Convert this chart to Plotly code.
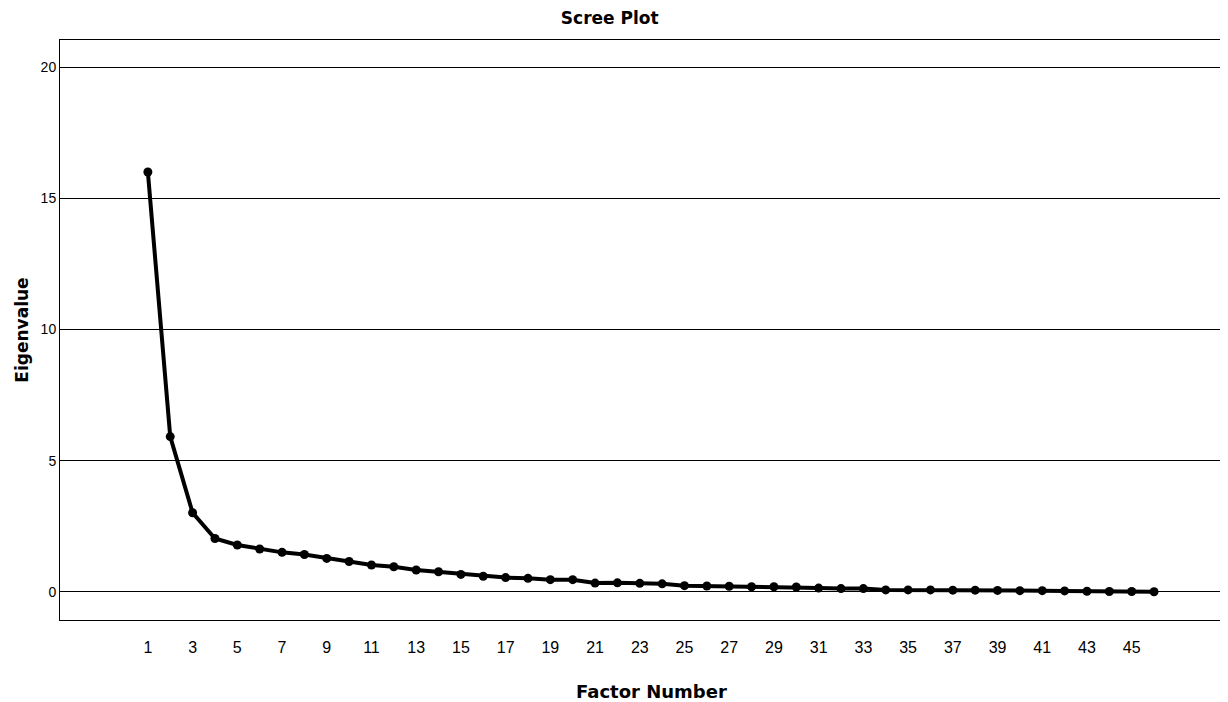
import plotly.graph_objects as go

factors = list(range(1, 47))
eigenvalues = [16.0, 5.92, 3.02, 2.04, 1.79, 1.64, 1.51, 1.43, 1.28, 1.16,
               1.03, 0.96, 0.84, 0.77, 0.67, 0.60, 0.55, 0.52, 0.47, 0.47,
               0.34, 0.35, 0.33, 0.31, 0.24, 0.23, 0.22, 0.20, 0.20, 0.19,
               0.15, 0.13, 0.13, 0.08, 0.08, 0.08, 0.07, 0.07, 0.06, 0.05,
               0.05, 0.04, 0.03, 0.02, 0.02, 0.01]
x_ticks = list(range(1, 46, 2))
y_ticks = [0, 5, 10, 15, 20]

fig = go.Figure()
fig.add_trace(go.Scatter(
    x=factors, y=eigenvalues, mode="lines+markers",
    line=dict(color="black", width=4),
    marker=dict(color="black", size=9, symbol="circle"),
    showlegend=False,
))

fig.update_layout(
    width=1228, height=702,
    margin=dict(l=52, r=16, t=32, b=90, autoexpand=False),
    paper_bgcolor="white", plot_bgcolor="white",
    title=dict(text="<b>Scree Plot</b>", x=0.490, xref="container", xanchor="center",
               y=0.986, yref="container", yanchor="middle",
               font=dict(family="DejaVu Sans", size=17, color="black")),
    font=dict(family="Liberation Sans", color="black"),
)
fig.add_annotation(
    text="<b>Factor Number</b>", xref="paper", yref="paper",
    x=0.5095, y=-0.124, xanchor="center", yanchor="middle", showarrow=False,
    font=dict(family="DejaVu Sans", size=18, color="black"),
)
fig.update_xaxes(
    range=[-2.93, 48.95], tickmode="array", tickvals=x_ticks,
    ticktext=[str(v) for v in x_ticks], showgrid=False, zeroline=False,
    showline=True, linecolor="black", linewidth=1, mirror=True,
    ticks="", ticklabelstandoff=13, tickfont=dict(size=16, color="black"),
    automargin=False,
)
fig.update_yaxes(
    range=[-1.067, 21.03], tickmode="array", tickvals=y_ticks,
    ticktext=[str(v) for v in y_ticks], showgrid=True, gridcolor="black",
    gridwidth=1, zeroline=False,
    showline=True, linecolor="black", linewidth=1, mirror=True,
    ticks="", tickfont=dict(size=14, color="black"),
    automargin=False,
    title=dict(text="<b>Eigenvalue</b>", standoff=7,
               font=dict(family="DejaVu Sans", size=17, color="black")),
)

fig.write_html("out.html")
